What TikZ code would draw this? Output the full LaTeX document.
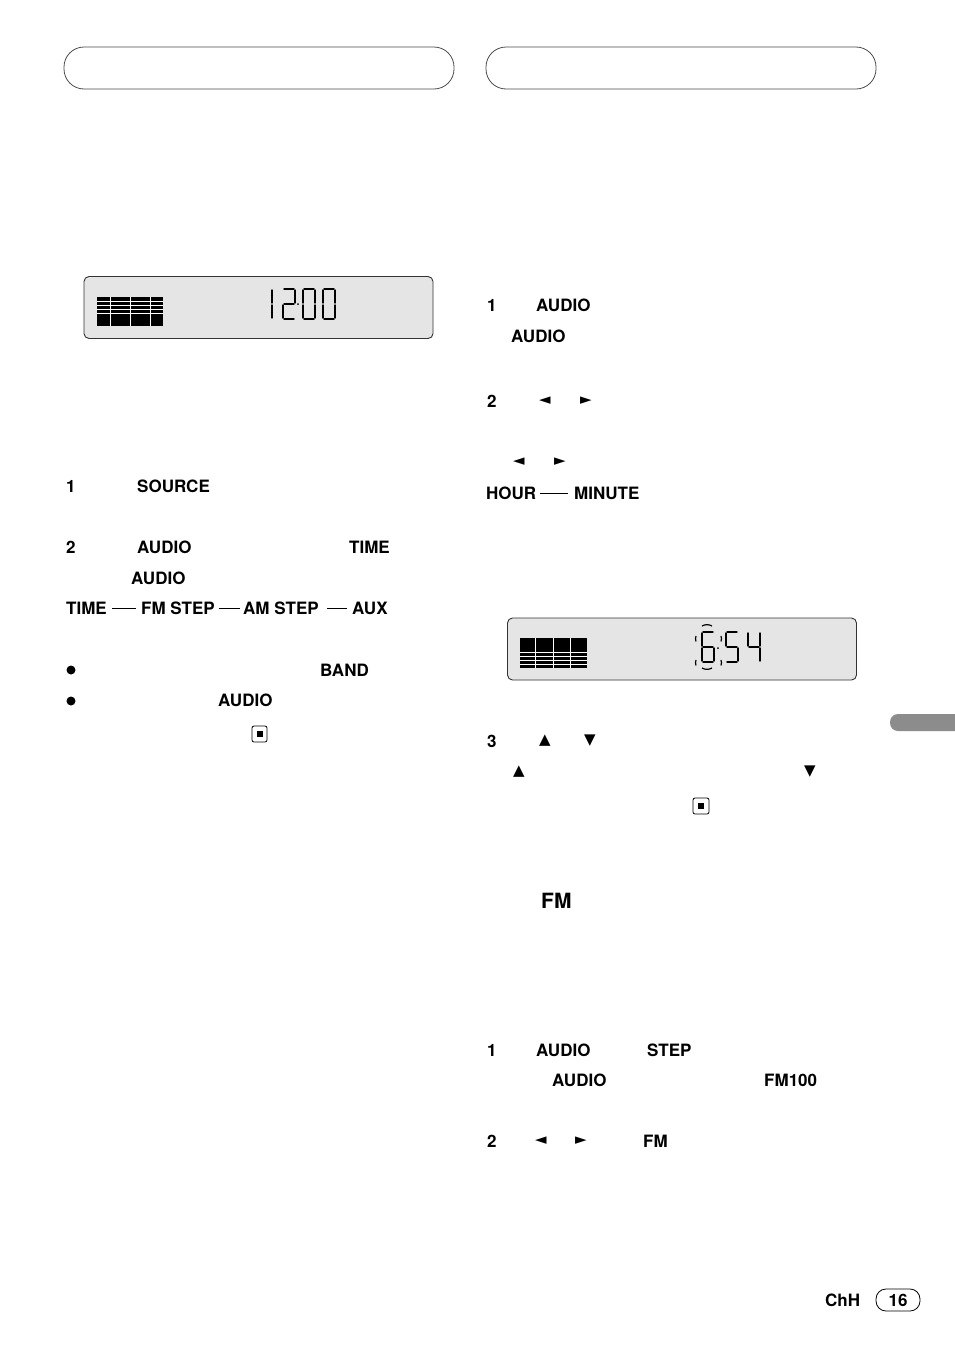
\documentclass[tikz,border=0pt]{standalone}
\usepackage{fontspec}
\setmainfont{TeX Gyre Heros}
\newfontfamily\symf{DejaVu Sans}
\begin{document}
\begin{tikzpicture}[x=1pt,y=-1pt,
  t/.style={anchor=west,inner sep=0pt,font=\fontsize{17}{17}\selectfont\bfseries},
  sy/.style={anchor=center,inner sep=0pt,font=\fontsize{15}{15}\selectfont\symf},
  hdr/.style={draw=black!70,line width=0.8pt,rounded corners=20pt},
  lcdbox/.style={draw=black!80,fill=black!10,line width=0.9pt,rounded corners=5pt},
  lcd/.style={line width=1.4pt,line cap=round},
  sa/.pic={\draw[lcd] (1,0)--(11,0);}, sb/.pic={\draw[lcd] (12,1)--(12,14);},
  sc/.pic={\draw[lcd] (12,16)--(12,29);}, sd/.pic={\draw[lcd] (1,30)--(11,30);},
  se/.pic={\draw[lcd] (0,16)--(0,29);}, sf/.pic={\draw[lcd] (0,1)--(0,14);},
  sg/.pic={\draw[lcd] (1,15)--(11,15);}]
\useasboundingbox (0,0) rectangle (954,1352);
\fill[white] (0,0) rectangle (954,1352);
% headers
\node[hdr,minimum width=390pt,minimum height=42pt] (h1) at (259,68) {};
\node[hdr,minimum width=390pt,minimum height=42pt] (h2) at (681,68) {};
% LCD 1
\node[lcdbox,minimum width=349pt,minimum height=62pt] (l1) at (258.5,307.5) {};
\fill (97,297) rectangle (163,326);
\foreach \yy in {301,305,309,313} \draw[white,line width=0.5pt] (97,\yy)--(163,\yy);
\foreach \xx in {110,130,150} \draw[white,line width=0.5pt] (\xx,297)--(\xx,326);
\foreach \p in {sb,sc} \pic at (260,289) {\p};
\foreach \p in {sa,sb,sg,se,sd} \pic at (283,289) {\p};
\fill (298,304) circle (1pt);
\foreach \p in {sa,sb,sc,sd,se,sf} \pic at (303,289) {\p};
\foreach \p in {sa,sb,sc,sd,se,sf} \pic at (323,289) {\p};
% LCD 2
\node[lcdbox,minimum width=349pt,minimum height=62pt] (l2) at (682,649) {};
\fill (520,638) rectangle (587,668);
\foreach \yy in {652,656,660,664} \draw[white,line width=0.5pt] (520,\yy)--(587,\yy);
\foreach \xx in {535,553,570} \draw[white,line width=0.5pt] (\xx,638)--(\xx,668);
\foreach \p in {sa,sf,sg,se,sd,sc} \pic at (702,632) {\p};
\fill (718,648) circle (1pt);
\foreach \p in {sa,sf,sg,sc,sd} \pic at (726,632) {\p};
\foreach \p in {sf,sg,sb,sc} \pic at (748,632) {\p};
\draw[line width=1.2pt] (696,636) arc (200:160:8);
\draw[line width=1.2pt] (696,660) arc (200:160:8);
\draw[line width=1.2pt] (721,636) arc (-20:20:8);
\draw[line width=1.2pt] (721,660) arc (-20:20:8);
\draw[line width=1.2pt] (702,626) arc (240:300:10);
\draw[line width=1.2pt] (702,668) arc (120:60:10);
% left column
\node[t] (a1) at (66,486) {1}; \node[t] (a2) at (137,486) {SOURCE};
\node[t] (b1) at (66,547) {2}; \node[t] (b2) at (137,547) {AUDIO}; \node[t] (b3) at (349,547) {TIME};
\node[t] (b4) at (131,578) {AUDIO};
\node[t] (c1) at (66,608) {TIME}; \node[t] (c2) at (141,608) {FM STEP};
\node[t] (c3) at (243,608) {AM STEP}; \node[t] (c4) at (352,608) {AUX};
\draw[line width=0.8pt] (c1.east)+(5,0) -- ([xshift=-5pt]c2.west);
\draw[line width=0.8pt] (c2.east)+(4,0) -- ([xshift=-3pt]c3.west);
\draw[line width=0.8pt] (c3.east)+(8,0) -- ([xshift=-5pt]c4.west);
\fill (71,670) circle (4.5pt); \node[t] (d1) at (320,670) {BAND};
\fill (71,701) circle (4.5pt); \node[t] (d2) at (218,700) {AUDIO};
\draw[line width=0.8pt,rounded corners=2pt] (252,726) rectangle (267,742); \fill (256.5,731) rectangle (262.5,737);
% right column
\node[t] (e1) at (487,305) {1}; \node[t] (e2) at (536,305) {AUDIO};
\node[t] (e3) at (511,336) {AUDIO};
\node[t] (f1) at (487,401) {2}; \node[sy] (f2) at (545,401) {◄}; \node[sy] (f3) at (586,401) {►};
\node[sy] (f4) at (519,462) {◄}; \node[sy] (f5) at (560,462) {►};
\node[t] (g1) at (486,493) {HOUR}; \node[t] (g2) at (574,493) {MINUTE};
\draw[line width=0.8pt] ([xshift=4pt]g1.east) -- ([xshift=-6pt]g2.west);
\node[t] (k1) at (487,741) {3}; \node[sy] (k2) at (545,741) {▲}; \node[sy] (k3) at (590,741) {▼};
\node[sy] (k4) at (519,772) {▲}; \node[sy] (k5) at (810,772) {▼};
\draw[line width=0.8pt,rounded corners=2pt] (693,798) rectangle (709,814); \fill (698,803) rectangle (704,809);
\node[t,font=\fontsize{21}{21}\selectfont\bfseries] (m) at (541,901) {FM};
\node[t] (n1) at (487,1050) {1}; \node[t] (n2) at (536,1050) {AUDIO}; \node[t] (n3) at (647,1050) {STEP};
\node[t] (n4) at (552,1080) {AUDIO}; \node[t] (n5) at (764,1080) {FM100};
\node[t] (p1) at (487,1141) {2}; \node[sy] (p2) at (541,1141) {◄}; \node[sy] (p3) at (581,1141) {►}; \node[t] (p4) at (643,1141) {FM};
% tab and page number
\fill[black!45,rounded corners=8pt] (890,714) rectangle (970,731);
\node[t] (ch) at (825,1300) {ChH};
\node[draw,line width=0.8pt,rounded corners=10pt,minimum width=44pt,minimum height=22pt,font=\fontsize{17}{17}\selectfont\bfseries] (pg) at (898,1300) {16};
\end{tikzpicture}
\end{document}
